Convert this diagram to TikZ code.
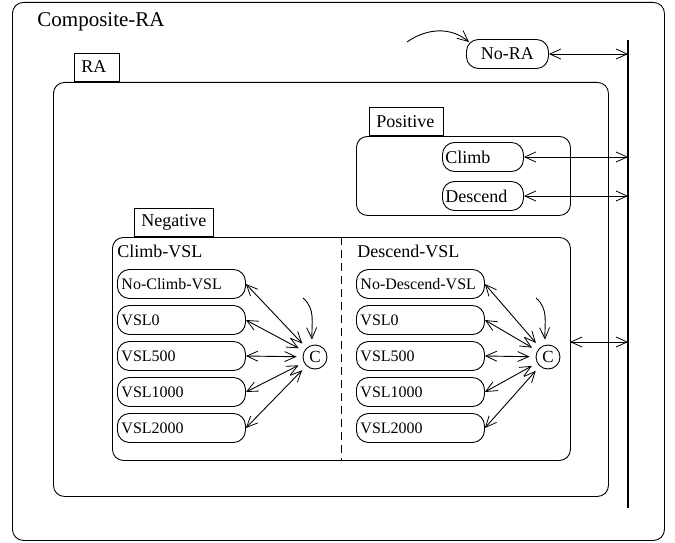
\documentclass[tikz,border=0pt]{standalone}
\usepackage{fontspec}
\setmainfont{Liberation Serif}
\usetikzlibrary{arrows.meta,positioning}
\begin{document}
\begin{tikzpicture}[x=1pt,y=-1pt,
  line width=0.9pt,
  font=\rmfamily,
  >={Straight Barb[length=11pt,width=10pt,line width=0.8pt]},
  box/.style={draw,rounded corners=11pt,inner sep=0pt,anchor=north west},
  tab/.style={draw,inner sep=0pt,anchor=south west,minimum height=28pt},
  st/.style={draw,rounded corners=12pt,minimum height=29pt,inner sep=0pt,font=\rmfamily\fontsize{16}{18}\selectfont},
  vsl/.style={st,anchor=west,minimum width=128pt,text width=120pt,align=left},
  posst/.style={st,anchor=west,minimum width=81pt,text width=75pt,align=left,font=\rmfamily\fontsize{18}{20}\selectfont},
  cc/.style={draw,circle,inner sep=0pt,minimum size=24pt,font=\rmfamily\fontsize{17}{18}\selectfont},
  lbl/.style={anchor=west,inner sep=0pt,font=\rmfamily\fontsize{18}{20}\selectfont}]
\useasboundingbox (0,0) rectangle (675,543);
% outer
\node[box,minimum width=652pt,minimum height=538pt] (comp) at (12,2) {};
\node[lbl,font=\rmfamily\fontsize{21}{23}\selectfont] (comptxt) at (37,22) {Composite-RA};
% bar
\coordinate (bartop) at (628,40);
\coordinate (barbot) at (628,508);
\draw[line width=2.2pt] (bartop) -- (barbot);
% No-RA
\node[st,minimum width=82pt,anchor=west,font=\rmfamily\fontsize{18}{20}\selectfont] (nora) at (466,54) {No-RA};
\coordinate (norainit) at (407,42);
\draw[->] (norainit) to[out=35,in=140] ([shift={(3,3)}]nora.north west);
\draw[<->] (nora.east) -- (nora.east -| bartop);
% RA
\node[box,minimum width=555pt,minimum height=414pt] (ra) at (53,82) {};
\node[tab,minimum width=45pt] (ratab) at (74,82) {};
\node[lbl] (ratxt) at (81,67) {RA};
% Positive
\node[box,minimum width=214pt,minimum height=79pt] (posbox) at (356,136) {};
\node[tab,minimum width=74pt] (postab) at (369,136) {};
\node[lbl] (postxt) at (376,122) {Positive};
\node[posst] (climb) at (442,157) {Climb};
\node[posst] (desc) at (442,196) {Descend};
\draw[<->] (climb.east) -- (climb.east -| bartop);
\draw[<->] (desc.east) -- (desc.east -| bartop);
% Negative
\node[box,minimum width=458pt,minimum height=223pt] (negbox) at (112,237) {};
\node[tab,minimum width=79pt] (negtab) at (134,237) {};
\node[lbl] (negtxt) at (141,222) {Negative};
\coordinate (dtop) at (341,237);
\coordinate (dbot) at (341,460);
\draw[dashed,dash pattern=on 8pt off 5pt] (dtop) -- (dbot);
\coordinate (negarr) at (570,342);
\draw[<->] (negarr) -- (negarr -| bartop);
% Climb-VSL
\node[lbl] (cvsl) at (117,251) {Climb-VSL};
\node[vsl] (c1) at (117,284) {No-Climb-VSL};
\node[vsl] (c2) at (117,320) {VSL0};
\node[vsl] (c3) at (117,356) {VSL500};
\node[vsl] (c4) at (117,392) {VSL1000};
\node[vsl] (c5) at (117,428) {VSL2000};
\node[cc] (cc1) at (315,357) {C};
\coordinate (ci1) at (303,298);
\draw[->] (ci1) to[out=-40,in=92] ([shift={(-3,-5)}]cc1.north);
\foreach \n in {c1,c2,c3,c4,c5}
  \draw[<->,shorten >=6pt] (\n.east) -- (cc1);
% Descend-VSL
\node[lbl] (dvsl) at (357,251) {Descend-VSL};
\node[vsl] (d1) at (356,284) {No-Descend-VSL};
\node[vsl] (d2) at (356,320) {VSL0};
\node[vsl] (d3) at (356,356) {VSL500};
\node[vsl] (d4) at (356,392) {VSL1000};
\node[vsl] (d5) at (356,428) {VSL2000};
\node[cc] (cc2) at (548,357) {C};
\coordinate (ci2) at (536,298);
\draw[->] (ci2) to[out=-40,in=92] ([shift={(-3,-5)}]cc2.north);
\foreach \n in {d1,d2,d3,d4,d5}
  \draw[<->,shorten >=6pt] (\n.east) -- (cc2);
\end{tikzpicture}
\end{document}
